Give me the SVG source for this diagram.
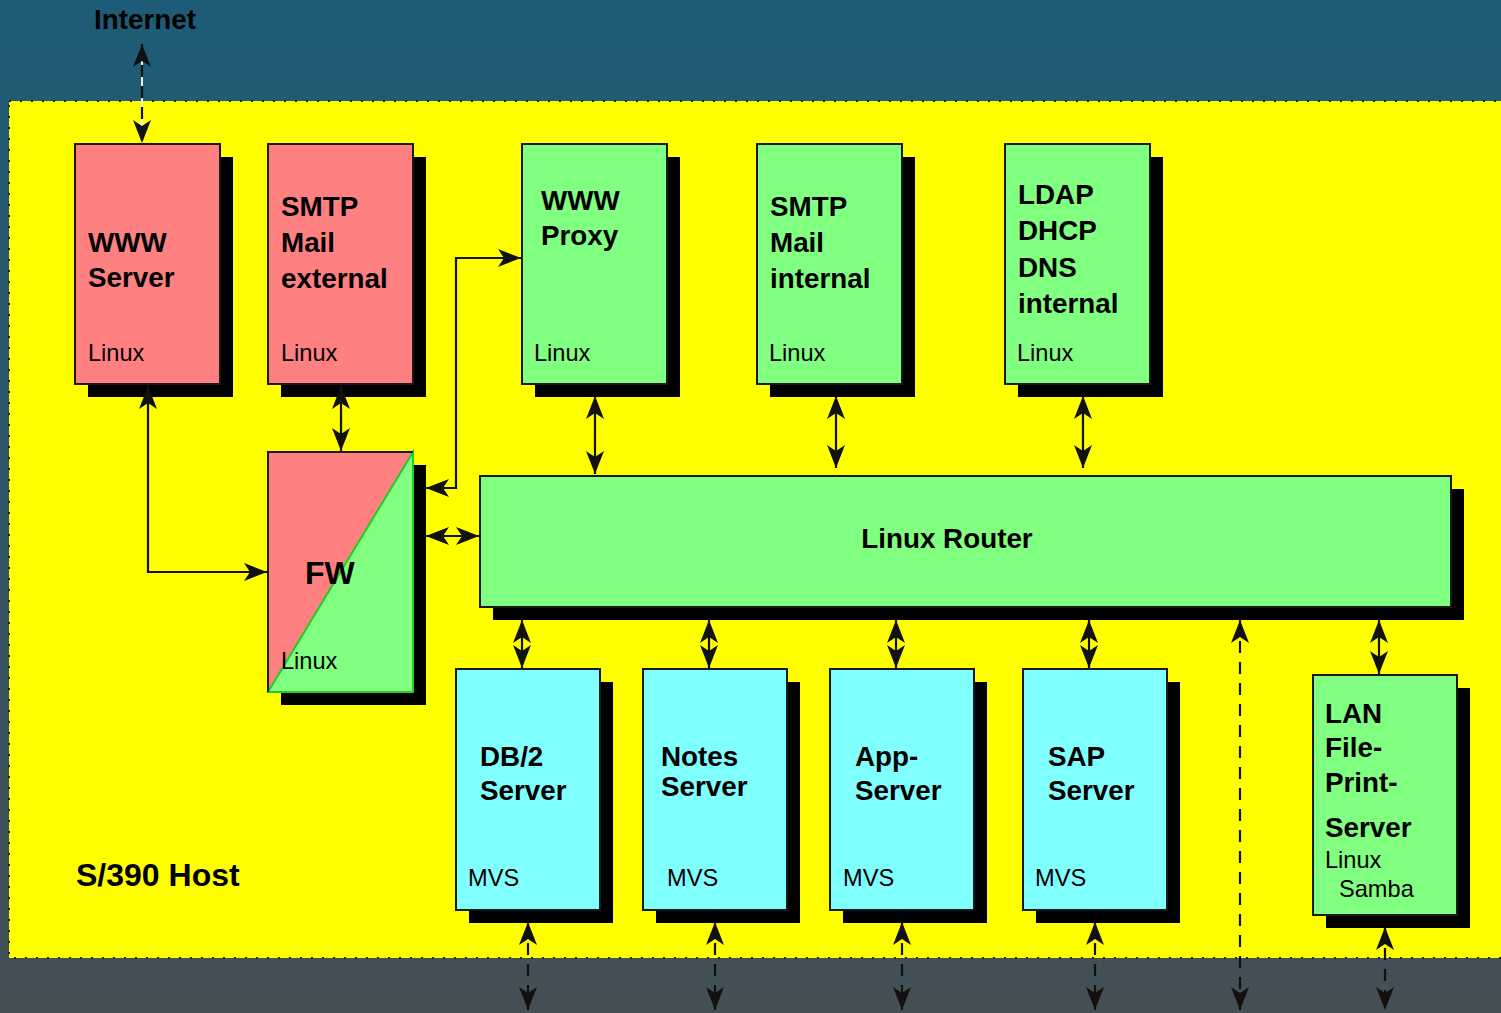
<svg xmlns="http://www.w3.org/2000/svg" width="1501" height="1013" viewBox="0 0 1501 1013">
<defs>
<linearGradient id="bg" x1="0" y1="0" x2="0" y2="1">
<stop offset="0" stop-color="#1d5c77"/>
<stop offset="1" stop-color="#444f55"/>
</linearGradient>
<marker id="arr" markerUnits="userSpaceOnUse" markerWidth="24" markerHeight="18" refX="22" refY="8" orient="auto-start-reverse" overflow="visible">
<path d="M22,8 L-1,-1 L5,8 L-1,17 Z" fill="#111"/>
</marker>
<style>
.b{font-family:"Liberation Sans",Arial,sans-serif;font-weight:bold;font-size:27.8px;fill:#000}
.n{font-family:"Liberation Sans",Arial,sans-serif;font-size:23.6px;fill:#000}
.sh{fill:#000}
.box{stroke:#1a1a1a;stroke-width:2}
.red{fill:#ff8080}
.grn{fill:#80ff80}
.cyn{fill:#80ffff}
.c{fill:none;stroke:#111;stroke-width:2.2;marker-start:url(#arr);marker-end:url(#arr)}
.d{stroke-dasharray:12 9}
</style>
</defs>
<rect x="0" y="0" width="1501" height="1013" fill="url(#bg)"/>
<rect x="9" y="101" width="1500" height="857" fill="#ffff00" stroke="#222" stroke-width="2" stroke-dasharray="2 9"/>
<text class="b" x="94" y="29">Internet</text>
<text class="b" x="76" y="886" style="font-size:32px">S/390 Host</text>

<g id="www-server">
<rect class="sh" x="88" y="157" width="145" height="240"/>
<rect class="box red" x="75" y="144" width="145" height="240"/>
<text class="b" x="88" y="252">WWW</text>
<text class="b" x="88" y="287">Server</text>
<text class="n" x="88" y="361">Linux</text>
</g>
<g id="smtp-external">
<rect class="sh" x="281" y="157" width="145" height="240"/>
<rect class="box red" x="268" y="144" width="145" height="240"/>
<text class="b" x="281" y="216">SMTP</text>
<text class="b" x="281" y="252">Mail</text>
<text class="b" x="281" y="288">external</text>
<text class="n" x="281" y="361">Linux</text>
</g>
<g id="www-proxy">
<rect class="sh" x="535" y="157" width="145" height="240"/>
<rect class="box grn" x="522" y="144" width="145" height="240"/>
<text class="b" x="541" y="210">WWW</text>
<text class="b" x="541" y="245">Proxy</text>
<text class="n" x="534" y="361">Linux</text>
</g>
<g id="smtp-internal">
<rect class="sh" x="770" y="157" width="145" height="240"/>
<rect class="box grn" x="757" y="144" width="145" height="240"/>
<text class="b" x="770" y="216">SMTP</text>
<text class="b" x="770" y="252">Mail</text>
<text class="b" x="770" y="288">internal</text>
<text class="n" x="769" y="361">Linux</text>
</g>
<g id="ldap">
<rect class="sh" x="1018" y="157" width="145" height="240"/>
<rect class="box grn" x="1005" y="144" width="145" height="240"/>
<text class="b" x="1018" y="204">LDAP</text>
<text class="b" x="1018" y="240">DHCP</text>
<text class="b" x="1018" y="277">DNS</text>
<text class="b" x="1018" y="313">internal</text>
<text class="n" x="1017" y="361">Linux</text>
</g>
<g id="fw">
<rect class="sh" x="281" y="465" width="145" height="240"/>
<polygon class="red" points="268,452 413,452 268,692"/>
<polygon class="grn" points="413,452 413,692 268,692" stroke="#22cc22" stroke-width="2"/>
<polyline points="268,692 268,452 413,452" fill="none" stroke="#1a1a1a" stroke-width="2"/>
<text class="b" x="305" y="584" style="font-size:32px">FW</text>
<text class="n" x="281" y="669">Linux</text>
</g>
<g id="linux-router">
<rect class="sh" x="493" y="489" width="971" height="131"/>
<rect class="box grn" x="480" y="476" width="971" height="131"/>
<text class="b" x="947" y="548" text-anchor="middle">Linux Router</text>
</g>
<g id="db2">
<rect class="sh" x="469" y="682" width="144" height="241"/>
<rect class="box cyn" x="456" y="669" width="144" height="241"/>
<text class="b" x="480" y="766">DB/2</text>
<text class="b" x="480" y="800">Server</text>
<text class="n" x="468" y="886">MVS</text>
</g>
<g id="notes">
<rect class="sh" x="656" y="682" width="144" height="241"/>
<rect class="box cyn" x="643" y="669" width="144" height="241"/>
<text class="b" x="661" y="766">Notes</text>
<text class="b" x="661" y="796">Server</text>
<text class="n" x="667" y="886">MVS</text>
</g>
<g id="app">
<rect class="sh" x="843" y="682" width="144" height="241"/>
<rect class="box cyn" x="830" y="669" width="144" height="241"/>
<text class="b" x="855" y="766">App-</text>
<text class="b" x="855" y="800">Server</text>
<text class="n" x="843" y="886">MVS</text>
</g>
<g id="sap">
<rect class="sh" x="1036" y="682" width="144" height="241"/>
<rect class="box cyn" x="1023" y="669" width="144" height="241"/>
<text class="b" x="1048" y="766">SAP</text>
<text class="b" x="1048" y="800">Server</text>
<text class="n" x="1035" y="886">MVS</text>
</g>
<g id="lan">
<rect class="sh" x="1326" y="688" width="144" height="240"/>
<rect class="box grn" x="1313" y="675" width="144" height="240"/>
<text class="b" x="1325" y="723">LAN</text>
<text class="b" x="1325" y="757">File-</text>
<text class="b" x="1325" y="792">Print-</text>
<text class="b" x="1325" y="837">Server</text>
<text class="n" x="1325" y="868">Linux</text>
<text class="n" x="1339" y="897">Samba</text>
</g>

<g id="connectors">
<line x1="142" y1="44" x2="142" y2="143" stroke="#e8f4f0" stroke-width="2"/>
<path class="c d" d="M142,44 V143"/>
<path class="c" d="M148,386 V572 H267"/>
<path class="c" d="M341,386 V451"/>
<path class="c" d="M426,488 H456 V258 H521"/>
<path class="c" d="M426,536 H479"/>
<path class="c" d="M595,396 V474"/>
<path class="c" d="M836,396 V468"/>
<path class="c" d="M1083,396 V468"/>
<path class="c" d="M522,620 V668"/>
<path class="c" d="M709,620 V668"/>
<path class="c" d="M896,620 V668"/>
<path class="c" d="M1089,620 V668"/>
<path class="c" d="M1379,620 V674"/>
<path class="c d" d="M1240,620 V1010"/>
<path class="c d" d="M528,922 V1010"/>
<path class="c d" d="M715,922 V1010"/>
<path class="c d" d="M902,922 V1010"/>
<path class="c d" d="M1095,922 V1010"/>
<path class="c d" d="M1385,927 V1010"/>
</g>
</svg>
